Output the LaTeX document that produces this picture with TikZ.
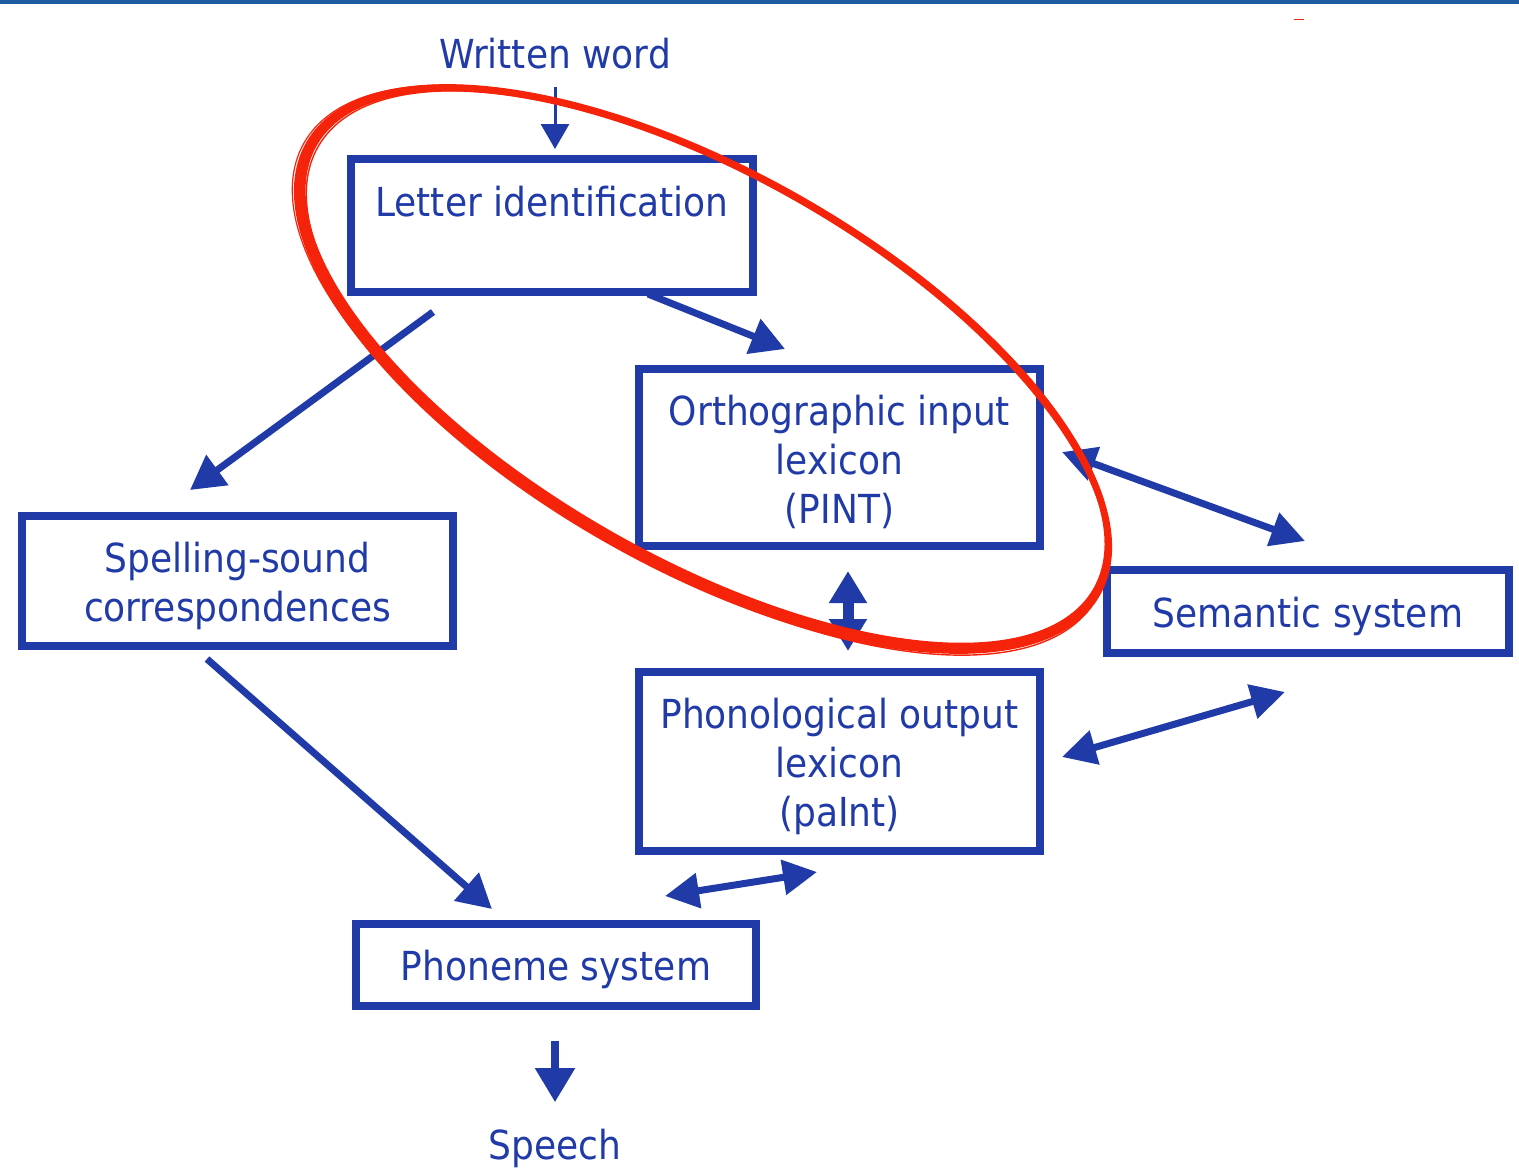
\documentclass[tikz,border=0pt]{standalone}
\usepackage{fontspec}
\setmainfont{DejaVu Sans Condensed}
\usetikzlibrary{arrows.meta,calc}
\definecolor{dblue}{RGB}{32,58,168}
\definecolor{barblue}{RGB}{30,92,162}
\definecolor{ered}{RGB}{245,35,10}
\newcommand\tstr{\rule{0pt}{20pt}}
\begin{document}
\begin{tikzpicture}[x=0.5pt,y=-0.5pt,
  txt/.style={text=dblue, inner sep=0pt, align=center, font=\fontsize{20}{24.5}\selectfont},
  box/.style={txt, draw=dblue, line width=4pt},
  thin arrow/.style={draw=dblue, line width=1.5pt, -{Triangle[length=12.5pt,width=14pt]}},
  fat arrow/.style={draw=dblue, line width=3.5pt, -{Triangle[length=17pt,width=18pt]}},
  two arrow/.style={draw=dblue, line width=3.5pt, {Triangle[length=17pt,width=17pt]}-{Triangle[length=17pt,width=17pt]}},
  scribble/.style={draw=ered}]
\useasboundingbox (0,0) rectangle (1519,1168);
\fill[barblue] (0,0) rectangle (1519,3.5);

% nodes
\node[txt, anchor=base] (written) at (555,68) {Written word};
\node[box, minimum width=201pt, minimum height=66.5pt] (letter) at (552,225.5) {Letter identification\\\mbox{}};
\node[box, minimum width=200.5pt, minimum height=88.5pt] (ortho) at (839.5,457.5) {\tstr Orthographic input\\lexicon\\(PINT)};
\node[box, minimum width=215.5pt, minimum height=65pt] (spell) at (237.5,581) {\tstr Spelling-sound\\correspondences};
\node[box, minimum width=201pt, minimum height=41.5pt] (sem) at (1308,611.5) {\tstr Semantic system};
\node[box, minimum width=200.5pt, minimum height=89.5pt] (phono) at (839.5,761.5) {\tstr Phonological output\\lexicon\\(paInt)};
\node[box, minimum width=200pt, minimum height=41pt] (phoneme) at (556,965) {\tstr Phoneme system};
\node[txt, anchor=base] (speech) at (555,1159) {Speech};

% connectors
\draw[thin arrow] ($(written.south)+(0,18)$) -- ($(letter.north)+(3,-6)$);
\draw[fat arrow] ($(letter.south)+(96,-2)$) -- ($(ortho.north)+(-54.5,-16)$);
\draw[fat arrow] ($(letter.south)+(-119,16)$) -- ($(spell.north)+(-47.5,-22)$);
\draw[two arrow] ($(ortho.east)+(18,-5.5)$) -- ($(sem.north)+(-3,-25)$);
\draw[draw=dblue, line width=5.5pt, {Triangle[length=16pt,width=18pt]}-{Triangle[length=16pt,width=18pt]}] ($(ortho.south)+(8.5,21)$) -- ($(phono.north)+(8.5,-17)$);
\draw[two arrow] ($(phono.east)+(18,-4.5)$) -- ($(sem.south)+(-23,35)$);
\draw[two arrow] ($(phoneme.north)+(109,-24)$) -- ($(phono.south)+(-22.5,17)$);
\draw[fat arrow] ($(spell.south)+(-30.5,9)$) -- ($(phoneme.north)+(-64,-11)$);
\draw[draw=dblue, line width=4pt, -{Triangle[length=17pt,width=19pt]}] ($(phoneme.south)+(-1,31)$) -- ($(speech.north)+(0,-26)$);

% red hand-drawn ellipse (band thick at lower left, thinner at upper right)
\begin{scope}[rotate around={-29.7:(703,369)}]
\fill[ered, even odd rule]
  (703,369) ellipse [x radius=228.5pt, y radius=99.5pt]
  (703.8,366.3) ellipse [x radius=223.5pt, y radius=94.5pt];
\end{scope}
\draw[scribble, line width=0.7pt, rotate around={-30.3:(707,373)}] (707,373) ellipse [x radius=225pt, y radius=97pt];
\draw[scribble, line width=0.6pt, rotate around={-29.2:(700,365)}] (700,365) ellipse [x radius=227pt, y radius=98pt];
\draw[ered, line width=0.8pt] (1294,19.5) -- (1304,19.5);
\end{tikzpicture}
\end{document}
